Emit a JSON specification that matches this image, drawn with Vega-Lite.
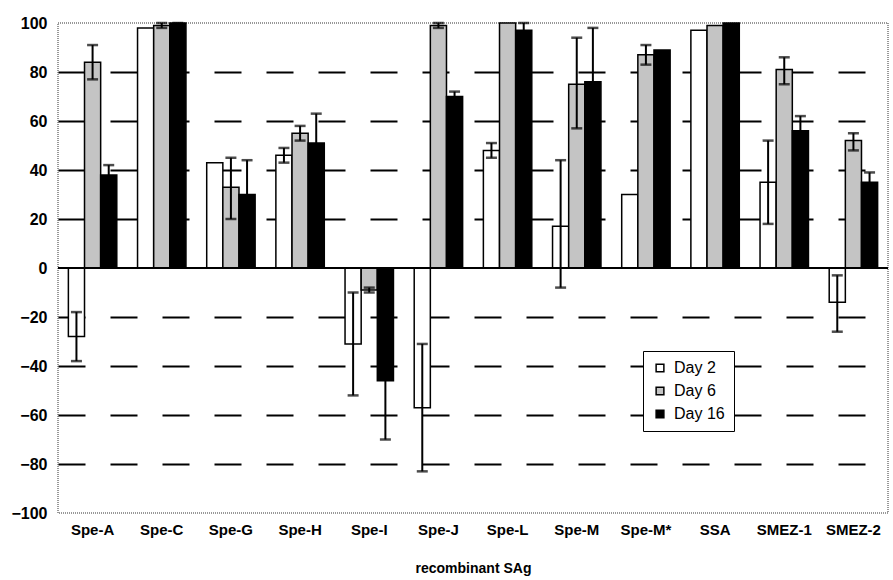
{
  "$schema": "https://vega.github.io/schema/vega-lite/v6.json",
  "autosize": {"type": "none"},
  "width": 830,
  "height": 490,
  "padding": {"left": 58, "top": 23, "right": 5, "bottom": 67},
  "background": "white",
  "config": {
    "font": "Liberation Sans",
    "view": {"stroke": "#777", "strokeWidth": 1.5, "strokeDash": [1, 1]}
  },
  "data": {
    "values": [
      {"cat": "Spe-A", "day": "Day 2", "v": -28, "lo": -38, "hi": -18},
      {"cat": "Spe-A", "day": "Day 6", "v": 84, "lo": 77, "hi": 91},
      {"cat": "Spe-A", "day": "Day 16", "v": 38, "lo": 35, "hi": 42},
      {"cat": "Spe-C", "day": "Day 2", "v": 98, "lo": 98, "hi": 98},
      {"cat": "Spe-C", "day": "Day 6", "v": 99, "lo": 98, "hi": 100},
      {"cat": "Spe-C", "day": "Day 16", "v": 100, "lo": 99, "hi": 100},
      {"cat": "Spe-G", "day": "Day 2", "v": 43, "lo": 43, "hi": 43},
      {"cat": "Spe-G", "day": "Day 6", "v": 33, "lo": 20, "hi": 45},
      {"cat": "Spe-G", "day": "Day 16", "v": 30, "lo": 16, "hi": 44},
      {"cat": "Spe-H", "day": "Day 2", "v": 46, "lo": 43, "hi": 49},
      {"cat": "Spe-H", "day": "Day 6", "v": 55, "lo": 52, "hi": 58},
      {"cat": "Spe-H", "day": "Day 16", "v": 51, "lo": 39, "hi": 63},
      {"cat": "Spe-I", "day": "Day 2", "v": -31, "lo": -52, "hi": -10},
      {"cat": "Spe-I", "day": "Day 6", "v": -9, "lo": -10, "hi": -8},
      {"cat": "Spe-I", "day": "Day 16", "v": -46, "lo": -70, "hi": -22},
      {"cat": "Spe-J", "day": "Day 2", "v": -57, "lo": -83, "hi": -31},
      {"cat": "Spe-J", "day": "Day 6", "v": 99, "lo": 98, "hi": 100},
      {"cat": "Spe-J", "day": "Day 16", "v": 70, "lo": 68, "hi": 72},
      {"cat": "Spe-L", "day": "Day 2", "v": 48, "lo": 45, "hi": 51},
      {"cat": "Spe-L", "day": "Day 6", "v": 100, "lo": 100, "hi": 100},
      {"cat": "Spe-L", "day": "Day 16", "v": 97, "lo": 94, "hi": 100},
      {"cat": "Spe-M", "day": "Day 2", "v": 17, "lo": -8, "hi": 44},
      {"cat": "Spe-M", "day": "Day 6", "v": 75, "lo": 57, "hi": 94},
      {"cat": "Spe-M", "day": "Day 16", "v": 76, "lo": 54, "hi": 98},
      {"cat": "Spe-M*", "day": "Day 2", "v": 30, "lo": 30, "hi": 30},
      {"cat": "Spe-M*", "day": "Day 6", "v": 87, "lo": 83, "hi": 91},
      {"cat": "Spe-M*", "day": "Day 16", "v": 89, "lo": 89, "hi": 89},
      {"cat": "SSA", "day": "Day 2", "v": 97, "lo": 97, "hi": 97},
      {"cat": "SSA", "day": "Day 6", "v": 99, "lo": 99, "hi": 99},
      {"cat": "SSA", "day": "Day 16", "v": 100, "lo": 100, "hi": 100},
      {"cat": "SMEZ-1", "day": "Day 2", "v": 35, "lo": 18, "hi": 52},
      {"cat": "SMEZ-1", "day": "Day 6", "v": 81, "lo": 75, "hi": 86},
      {"cat": "SMEZ-1", "day": "Day 16", "v": 56, "lo": 50, "hi": 62},
      {"cat": "SMEZ-2", "day": "Day 2", "v": -14, "lo": -26, "hi": -3},
      {"cat": "SMEZ-2", "day": "Day 6", "v": 52, "lo": 48, "hi": 55},
      {"cat": "SMEZ-2", "day": "Day 16", "v": 35, "lo": 31, "hi": 39}
    ]
  },
  "encoding": {
    "x": {
      "field": "cat",
      "type": "nominal",
      "sort": ["Spe-A", "Spe-C", "Spe-G", "Spe-H", "Spe-I", "Spe-J", "Spe-L", "Spe-M", "Spe-M*", "SSA", "SMEZ-1", "SMEZ-2"],
      "scale": {"paddingInner": 0.3, "paddingOuter": 0.15},
      "axis": {
        "title": "recombinant SAg",
        "labelAngle": 0,
        "labelFont": "Liberation Sans",
        "labelFontWeight": "bold",
        "labelFontSize": 15,
        "labelColor": "black",
        "labelPadding": 9,
        "titleFont": "Liberation Sans",
        "titleFontWeight": "bold",
        "titleFontSize": 14,
        "titleColor": "black",
        "titlePadding": 24,
        "domain": false,
        "ticks": false,
        "grid": false
      }
    },
    "xOffset": {"field": "day", "type": "nominal", "sort": ["Day 2", "Day 6", "Day 16"], "scale": {"paddingInner": 0}}
  },
  "layer": [
    {
      "mark": {"type": "bar", "stroke": "black", "strokeWidth": 1.5},
      "encoding": {
        "y": {
          "field": "v",
          "type": "quantitative",
          "scale": {"domain": [-100, 100], "nice": false},
          "axis": {
            "title": null,
            "values": [-100, -80, -60, -40, -20, 0, 20, 40, 60, 80, 100],
            "labelFont": "Liberation Sans",
            "labelFontWeight": "bold",
            "labelFontSize": 16,
            "labelColor": "black",
            "labelPadding": 11,
            "domain": false,
            "ticks": false,
            "grid": true,
            "gridColor": "black",
            "gridWidth": 2,
            "gridDash": [27, 25],
            "gridOpacity": {"condition": {"test": "abs(datum.value) == 100 || datum.value == 0", "value": 0}, "value": 1}
          }
        },
        "fill": {
          "field": "day",
          "type": "nominal",
          "sort": ["Day 2", "Day 6", "Day 16"],
          "scale": {"domain": ["Day 2", "Day 6", "Day 16"], "range": ["#ffffff", "#c4c4c4", "#000000"]},
          "legend": {
            "title": null,
            "orient": "none",
            "legendX": 585,
            "legendY": 328,
            "fillColor": "white",
            "strokeColor": "black",
            "padding": 9,
            "symbolType": "square",
            "symbolSize": 60,
            "symbolStrokeColor": "black",
            "symbolStrokeWidth": 1.5,
            "labelFont": "Liberation Sans",
            "labelFontSize": 16,
            "labelColor": "black",
            "rowPadding": 7,
            "labelOffset": 6
          }
        }
      }
    },
    {
      "transform": [{"filter": "datum.hi != datum.lo"}],
      "mark": {"type": "rule", "color": "black", "strokeWidth": 2},
      "encoding": {
        "y": {"field": "lo", "type": "quantitative"},
        "y2": {"field": "hi"}
      }
    },
    {
      "transform": [{"filter": "datum.hi != datum.lo"}],
      "mark": {"type": "tick", "color": "black", "thickness": 2.5, "size": 11},
      "encoding": {
        "y": {"field": "lo", "type": "quantitative"}
      }
    },
    {
      "transform": [{"filter": "datum.hi != datum.lo"}],
      "mark": {"type": "tick", "color": "black", "thickness": 2.5, "size": 11},
      "encoding": {
        "y": {"field": "hi", "type": "quantitative"}
      }
    },
    {
      "mark": {"type": "rule", "color": "black", "strokeWidth": 2},
      "encoding": {
        "y": {"datum": 0},
        "x": {"value": 0},
        "x2": {"value": 830},
        "xOffset": null
      }
    }
  ]
}
